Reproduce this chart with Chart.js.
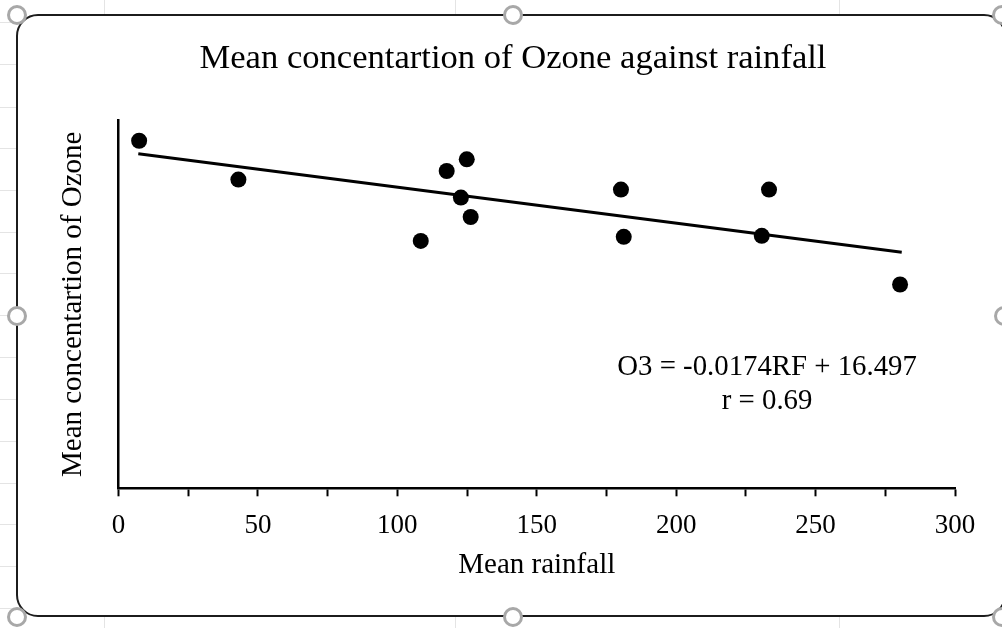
<!DOCTYPE html>
<html><head><meta charset="utf-8">
<script src="https://cdn.jsdelivr.net/npm/chart.js@4.4.1/dist/chart.umd.min.js"></script>
<style>
html,body{margin:0;padding:0;width:1002px;height:628px;overflow:hidden;background:#fff;position:relative;}
.vl{position:absolute;top:0;width:1px;height:628px;background:#e4e4e4;}
.hl{position:absolute;left:0;height:1px;width:1002px;background:#e4e4e4;}
#frame{position:absolute;left:16px;top:14px;width:990px;height:603px;border:2.5px solid #1c1c1c;border-radius:22px;background:#fff;box-sizing:border-box;}
#wrap{position:absolute;left:0;top:0;width:1002px;height:628px;}
.h{position:absolute;width:20px;height:20px;border:3px solid #a8a8a8;border-radius:50%;background:#fff;box-sizing:border-box;}
</style>
</head><body>
<div class="vl" style="left:104px"></div>
<div class="vl" style="left:455px"></div>
<div class="vl" style="left:839px"></div>
<div class="hl" style="top:22px"></div>
<div class="hl" style="top:64px"></div>
<div class="hl" style="top:107px"></div>
<div class="hl" style="top:148px"></div>
<div class="hl" style="top:190px"></div>
<div class="hl" style="top:232px"></div>
<div class="hl" style="top:273px"></div>
<div class="hl" style="top:315px"></div>
<div class="hl" style="top:357px"></div>
<div class="hl" style="top:399px"></div>
<div class="hl" style="top:441px"></div>
<div class="hl" style="top:483px"></div>
<div class="hl" style="top:524px"></div>
<div class="hl" style="top:566px"></div>
<div class="hl" style="top:608px"></div>
<div id="frame"></div>
<div id="wrap"><canvas id="c" width="1002" height="628"></canvas></div>
<div class="h" style="left:7px;top:5px"></div>
<div class="h" style="left:503px;top:5px"></div>
<div class="h" style="left:992px;top:5px"></div>
<div class="h" style="left:7px;top:306px"></div>
<div class="h" style="left:994px;top:306px"></div>
<div class="h" style="left:7px;top:607px"></div>
<div class="h" style="left:503px;top:607px"></div>
<div class="h" style="left:992px;top:607px"></div>
<script>
// Data
const rainfall = [7.4, 43.0, 124.9, 117.7, 122.8, 126.3, 108.4, 180.2, 181.2, 233.3, 230.7, 280.3];
const ozone    = [17.0, 15.1, 16.09, 15.52, 14.22, 13.27, 12.1, 14.61, 12.3, 14.61, 12.35, 9.97];
const trendRainfall = [7.1, 280.9];
const trendOzone    = [16.37, 11.55];
const xTickLabels = ['0', '50', '100', '150', '200', '250', '300'];
const eqLines = ['O3 = -0.0174RF + 16.497', 'r = 0.69'];
const eqAnchorX = 232.6;
const eqAnchorY = [5.9, 4.26];

const FONT = '"Liberation Serif", "Times New Roman", serif';

const eqPlugin = {
  id: 'eq',
  afterDatasetsDraw(chart) {
    const {ctx, scales: {x, y}} = chart;
    ctx.save();
    ctx.font = '28.8px ' + FONT;
    ctx.fillStyle = '#000';
    ctx.textAlign = 'center';
    ctx.textBaseline = 'middle';
    const cx = x.getPixelForValue(eqAnchorX);
    eqLines.forEach((t, i) => ctx.fillText(t, cx, y.getPixelForValue(eqAnchorY[i])));
    ctx.restore();
  }
};

new Chart(document.getElementById('c'), {
  type: 'scatter',
  data: {
    datasets: [
      {
        data: rainfall.map((r, i) => ({x: r, y: ozone[i]})),
        backgroundColor: '#000',
        borderColor: '#000',
        borderWidth: 0,
        pointRadius: 8,
        pointHoverRadius: 8
      },
      {
        type: 'line',
        data: trendRainfall.map((r, i) => ({x: r, y: trendOzone[i]})),
        borderColor: '#000',
        borderWidth: 3,
        pointRadius: 0,
        fill: false,
        showLine: true
      }
    ]
  },
  options: {
    responsive: false,
    animation: false,
    layout: {padding: {left: 71, right: 47, top: 0, bottom: 45.6}},
    plugins: {
      legend: {display: false},
      tooltip: {enabled: false},
      title: {
        display: true,
        text: 'Mean concentartion of Ozone against rainfall',
        color: '#000',
        font: {family: FONT, size: 34.6, weight: 'normal', lineHeight: 1.2},
        padding: {top: 38.4, bottom: 40.4}
      }
    },
    scales: {
      x: {
        type: 'linear',
        min: 0, max: 300,
        afterFit: s => { s.height = 94.1; },
        ticks: {
          stepSize: 25,
          autoSkip: false,
          maxRotation: 0,
          padding: 13,
          color: '#000',
          font: {family: FONT, size: 27, lineHeight: 1.2},
          callback: v => xTickLabels.includes(String(v)) ? String(v) : ''
        },
        grid: {drawOnChartArea: false, drawTicks: true, tickLength: 8, tickWidth: 2, tickColor: '#000'},
        border: {display: true, color: '#000', width: 2.5},
        title: {
          display: true, text: 'Mean rainfall', color: '#000',
          font: {family: FONT, size: 29, lineHeight: 1.2},
          padding: {top: 0, bottom: 0}
        }
      },
      y: {
        type: 'linear',
        min: 0, max: 18,
        afterFit: s => { s.width = 47.5; },
        ticks: {display: false},
        grid: {drawOnChartArea: false, drawTicks: false},
        border: {display: true, color: '#000', width: 2.5},
        title: {
          display: true, text: 'Mean concentartion of Ozone', color: '#000',
          font: {family: FONT, size: 29, lineHeight: 1.2},
          padding: {top: -15.5, bottom: 0}
        }
      }
    }
  },
  plugins: [eqPlugin]
});
</script>
</body></html>
